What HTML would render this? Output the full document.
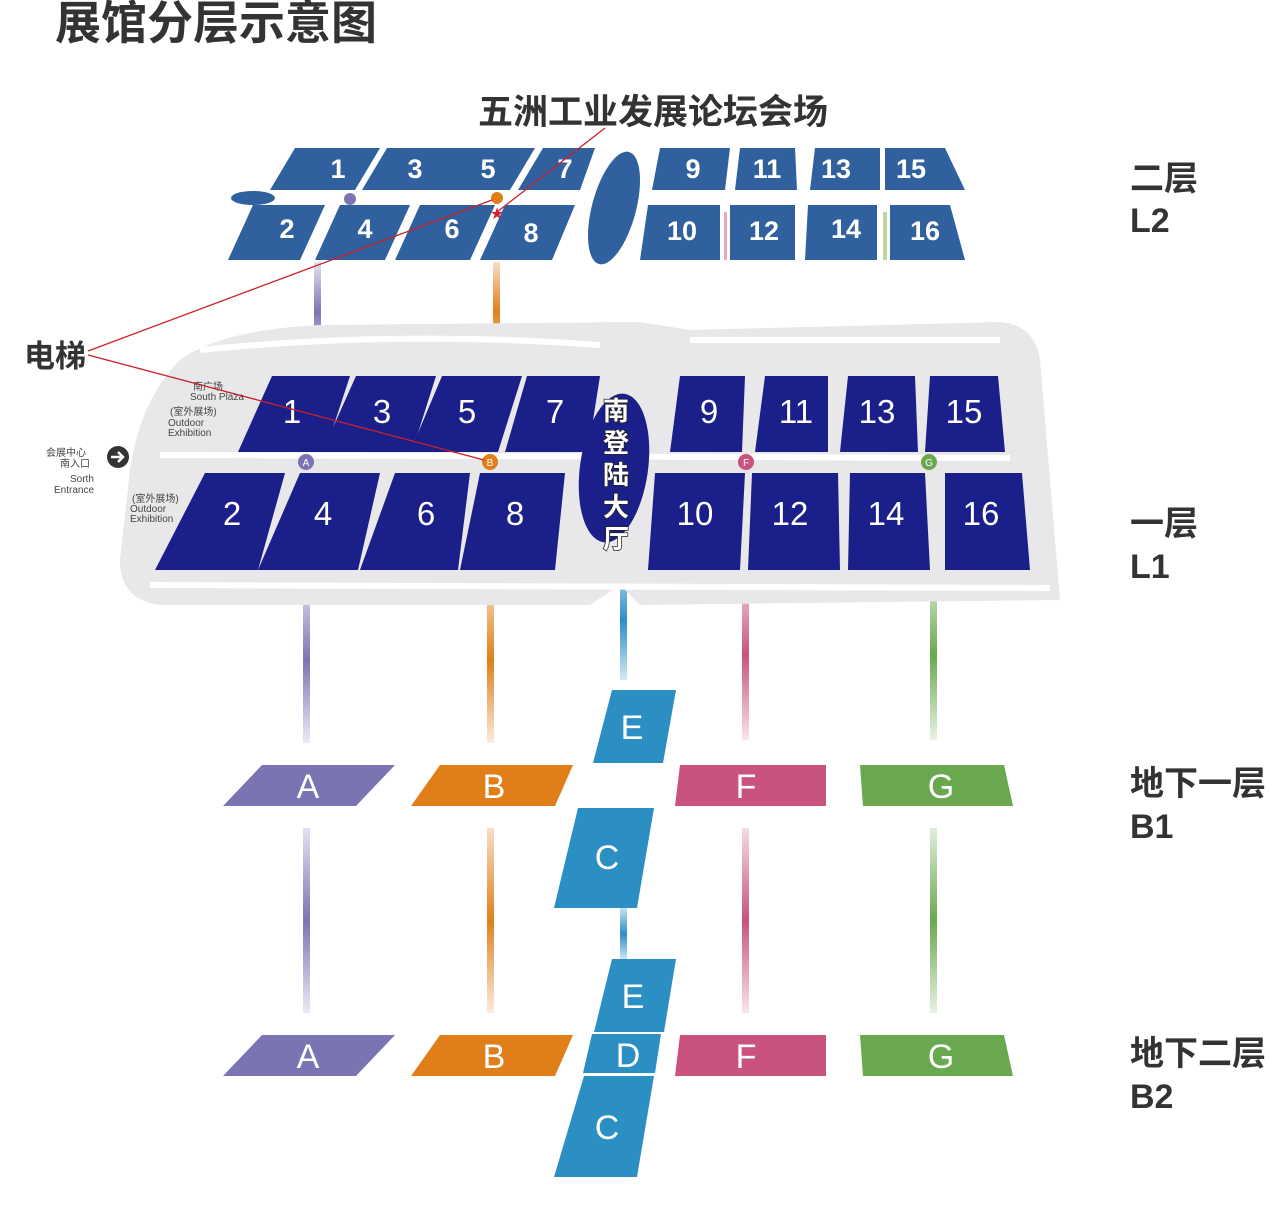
<!DOCTYPE html>
<html><head><meta charset="utf-8"><style>
html,body{margin:0;padding:0;background:#fff;}
svg{display:block;}
.cj{font-family:"Liberation Sans","Noto Sans CJK SC",sans-serif;font-weight:bold;}
</style></head><body>
<svg width="1269" height="1216" viewBox="0 0 1269 1216" xmlns="http://www.w3.org/2000/svg">
<defs>
<linearGradient id="gp" x1="0" y1="0" x2="0" y2="1"><stop offset="0" stop-color="#7b74b3" stop-opacity="0.2"/><stop offset="0.5" stop-color="#7b74b3"/><stop offset="1" stop-color="#7b74b3" stop-opacity="0.15"/></linearGradient>
<linearGradient id="go" x1="0" y1="0" x2="0" y2="1"><stop offset="0" stop-color="#e07f1a" stop-opacity="0.25"/><stop offset="0.5" stop-color="#e07f1a"/><stop offset="1" stop-color="#e07f1a" stop-opacity="0.15"/></linearGradient>
<linearGradient id="gk" x1="0" y1="0" x2="0" y2="1"><stop offset="0" stop-color="#c9527f" stop-opacity="0.2"/><stop offset="0.5" stop-color="#c9527f"/><stop offset="1" stop-color="#c9527f" stop-opacity="0.15"/></linearGradient>
<linearGradient id="gg" x1="0" y1="0" x2="0" y2="1"><stop offset="0" stop-color="#6aa84f" stop-opacity="0.2"/><stop offset="0.5" stop-color="#6aa84f"/><stop offset="1" stop-color="#6aa84f" stop-opacity="0.15"/></linearGradient>
<linearGradient id="gb" x1="0" y1="0" x2="0" y2="1"><stop offset="0" stop-color="#2b8fc4" stop-opacity="0.25"/><stop offset="0.5" stop-color="#2b8fc4"/><stop offset="1" stop-color="#2b8fc4" stop-opacity="0.2"/></linearGradient>
</defs>

<text x="55" y="39" class="cj" font-size="46" fill="#333">展馆分层示意图</text>
<text x="478" y="124" class="cj" font-size="35" fill="#333">五洲工业发展论坛会场</text>
<text x="24" y="367" class="cj" font-size="31" fill="#333">电梯</text>

<g class="cj" font-size="34" fill="#333">
<text x="1130" y="190">二层</text><text x="1130" y="232">L2</text>
<text x="1130" y="535">一层</text><text x="1130" y="578">L1</text>
<text x="1130" y="795">地下一层</text><text x="1130" y="838">B1</text>
<text x="1130" y="1065">地下二层</text><text x="1130" y="1108">B2</text>
</g>

<!-- connectors -->
<rect x="314" y="262" width="7" height="100" fill="url(#gp)"/>
<rect x="493" y="262" width="7" height="100" fill="url(#go)"/>
<rect x="303" y="578" width="7" height="165" fill="url(#gp)"/>
<rect x="487" y="578" width="7" height="165" fill="url(#go)"/>
<rect x="620" y="560" width="7" height="120" fill="url(#gb)"/>
<rect x="742" y="570" width="7" height="170" fill="url(#gk)"/>
<rect x="930" y="570" width="7" height="170" fill="url(#gg)"/>
<rect x="303" y="828" width="7" height="185" fill="url(#gp)"/>
<rect x="487" y="828" width="7" height="185" fill="url(#go)"/>
<rect x="620" y="908" width="7" height="52" fill="url(#gb)"/>
<rect x="742" y="828" width="7" height="185" fill="url(#gk)"/>
<rect x="930" y="828" width="7" height="185" fill="url(#gg)"/>

<!-- L1 grey background -->
<path d="M180 360 Q220 330 320 325 L640 322 L690 330 L1000 322 Q1035 325 1040 360 L1060 600 L640 605 L620 585 L590 605 L160 605 Q120 600 120 560 L130 470 Q140 400 180 360 Z" fill="#e8e8ea"/>
<g fill="none" stroke="#fff" stroke-width="6">
<path d="M200 350 Q400 330 600 345"/><path d="M690 340 L1000 340"/><path d="M150 585 L1050 588"/><path d="M160 455 L1010 458"/>
</g>

<!-- L2 -->
<g fill="#30609e">
<polygon points="295,148 380,148 355,190 270,190"/>
<polygon points="387,148 460,148 435,190 362,190"/>
<polygon points="455,148 535,148 510,190 430,190"/>
<polygon points="543,148 595,148 580,190 518,190"/>
<polygon points="660,148 730,148 725,190 652,190"/>
<polygon points="740,148 795,148 797,190 735,190"/>
<polygon points="815,148 880,148 880,190 810,190"/>
<polygon points="885,148 945,148 965,190 885,190"/>
<polygon points="253,205 325,205 300,260 228,260"/>
<polygon points="340,205 410,205 385,260 315,260"/>
<polygon points="420,205 495,205 470,260 395,260"/>
<polygon points="505,205 575,205 552,260 480,260"/>
<polygon points="648,205 720,205 720,260 640,260"/>
<polygon points="730,205 795,205 795,260 730,260"/>
<polygon points="808,205 877,205 877,260 805,260"/>
<polygon points="890,205 950,205 965,260 890,260"/>
<ellipse cx="253" cy="198" rx="22" ry="7"/>
<ellipse cx="614" cy="208" rx="22" ry="58" transform="rotate(15 614 208)"/>
</g>
<rect x="724" y="212" width="3" height="48" fill="#e8a8c0"/>
<rect x="883" y="212" width="4" height="48" fill="#b8d8a0"/>
<g font-family="Liberation Sans,sans-serif" font-weight="bold" font-size="27" fill="#fff" text-anchor="middle">
<text x="338" y="178">1</text><text x="415" y="178">3</text><text x="488" y="178">5</text><text x="565" y="178">7</text>
<text x="693" y="178">9</text><text x="767" y="178">11</text><text x="836" y="178">13</text><text x="911" y="178">15</text>
<text x="287" y="238">2</text><text x="365" y="238">4</text><text x="452" y="238">6</text><text x="531" y="242">8</text>
<text x="682" y="240">10</text><text x="764" y="240">12</text><text x="846" y="238">14</text><text x="925" y="240">16</text>
</g>
<circle cx="350" cy="199" r="6" fill="#7b74b3"/>
<circle cx="497" cy="198" r="6" fill="#e07f1a"/>

<!-- L1 -->
<g fill="#1b1f8a">
<polygon points="272,376 350,376 325,452 238,452"/>
<polygon points="356,376 436,376 412,452 322,452"/>
<polygon points="442,376 522,376 498,452 410,452"/>
<polygon points="527,376 600,376 588,452 505,452"/>
<polygon points="680,376 745,376 742,452 670,452"/>
<polygon points="765,376 828,376 828,452 755,452"/>
<polygon points="848,376 915,376 918,452 840,452"/>
<polygon points="930,376 998,376 1005,452 925,452"/>
<polygon points="205,473 285,473 258,570 155,570"/>
<polygon points="300,473 380,473 358,570 258,570"/>
<polygon points="395,473 470,473 458,570 360,570"/>
<polygon points="480,473 565,473 555,570 460,570"/>
<polygon points="655,473 745,473 740,570 648,570"/>
<polygon points="752,473 838,473 840,570 748,570"/>
<polygon points="850,473 925,473 930,570 848,570"/>
<polygon points="945,473 1022,473 1030,570 945,570"/>
<ellipse cx="614" cy="468" rx="34" ry="75" transform="rotate(8 614 468)"/>
</g>
<g font-family="Liberation Sans,sans-serif" font-size="33" fill="#fff" text-anchor="middle">
<text x="292" y="423">1</text><text x="382" y="423">3</text><text x="467" y="423">5</text><text x="555" y="423">7</text>
<text x="709" y="423">9</text><text x="796" y="423">11</text><text x="877" y="423">13</text><text x="964" y="423">15</text>
<text x="232" y="525">2</text><text x="323" y="525">4</text><text x="426" y="525">6</text><text x="515" y="525">8</text>
<text x="695" y="525">10</text><text x="790" y="525">12</text><text x="886" y="525">14</text><text x="981" y="525">16</text>
</g>
<g class="cj" font-size="26" fill="#fff" stroke="#222" stroke-width="1.5" text-anchor="middle" paint-order="stroke">
<text x="616" y="420">南</text><text x="616" y="452">登</text><text x="616" y="484">陆</text><text x="616" y="516">大</text><text x="616" y="548">厅</text>
</g>
<circle cx="306" cy="462" r="8" fill="#7b74b3"/><text x="306" y="466" font-family="Liberation Sans" font-size="10" fill="#fff" text-anchor="middle">A</text>
<circle cx="490" cy="462" r="8" fill="#e07f1a"/><text x="490" y="466" font-family="Liberation Sans" font-size="10" fill="#fff" text-anchor="middle">B</text>
<circle cx="746" cy="462" r="8" fill="#c9527f"/><text x="746" y="466" font-family="Liberation Sans" font-size="10" fill="#fff" text-anchor="middle">F</text>
<circle cx="929" cy="462" r="8" fill="#6aa84f"/><text x="929" y="466" font-family="Liberation Sans" font-size="10" fill="#fff" text-anchor="middle">G</text>

<g font-family="Liberation Sans,'Noto Sans CJK SC',sans-serif" font-size="10" fill="#444">
<text x="193" y="390">南广场</text><text x="190" y="400">South Plaza</text>
<text x="170" y="415">(室外展场)</text><text x="168" y="426">Outdoor</text><text x="168" y="436">Exhibition</text>
<text x="46" y="456">会展中心</text><text x="60" y="467">南入口</text>
<text x="70" y="482">Sorth</text><text x="54" y="493">Entrance</text>
<text x="132" y="502">(室外展场)</text><text x="130" y="512">Outdoor</text><text x="130" y="522">Exhibition</text>
</g>
<circle cx="118" cy="457" r="11" fill="#333"/><path d="M111 457 H123 M118 452 L123 457 L118 462" stroke="#fff" stroke-width="2.5" fill="none"/>

<!-- B1 -->
<g font-family="Liberation Sans,sans-serif" font-size="34" fill="#fff" text-anchor="middle">
<polygon points="262,765 395,765 356,806 223,806" fill="#7b74b3"/><text x="308" y="798">A</text>
<polygon points="440,765 573,765 555,806 411,806" fill="#e07f1a"/><text x="494" y="798">B</text>
<polygon points="680,765 826,765 826,806 675,806" fill="#c9527f"/><text x="746" y="798">F</text>
<polygon points="860,765 1004,765 1013,806 863,806" fill="#6aa84f"/><text x="941" y="798">G</text>
<polygon points="612,690 676,690 663,763 593,763" fill="#2b8fc4"/><text x="632" y="739">E</text>
<polygon points="578,808 654,808 637,908 554,908" fill="#2b8fc4"/><text x="607" y="869">C</text>
<!-- B2 -->
<polygon points="262,1035 395,1035 356,1076 223,1076" fill="#7b74b3"/><text x="308" y="1068">A</text>
<polygon points="440,1035 573,1035 555,1076 411,1076" fill="#e07f1a"/><text x="494" y="1068">B</text>
<polygon points="680,1035 826,1035 826,1076 675,1076" fill="#c9527f"/><text x="746" y="1068">F</text>
<polygon points="860,1035 1004,1035 1013,1076 863,1076" fill="#6aa84f"/><text x="941" y="1068">G</text>
<polygon points="612,959 676,959 664,1032 594,1032" fill="#2b8fc4"/><text x="633" y="1008">E</text>
<polygon points="592,1034 661,1034 655,1073 583,1073" fill="#2b8fc4"/><text x="628" y="1067">D</text>
<polygon points="584,1076 654,1076 637,1177 554,1177" fill="#2b8fc4"/><text x="607" y="1139">C</text>
</g>

<!-- red pointer lines -->
<g stroke="#c8202a" stroke-width="1.3" fill="none">
<line x1="605" y1="128" x2="497" y2="212"/>
<line x1="88" y1="351" x2="492" y2="200"/>
<line x1="88" y1="355" x2="484" y2="460"/>
</g>
<text x="497" y="219" font-size="16" fill="#d8202a" text-anchor="middle" font-family="DejaVu Sans">★</text>
</svg>
</body></html>
